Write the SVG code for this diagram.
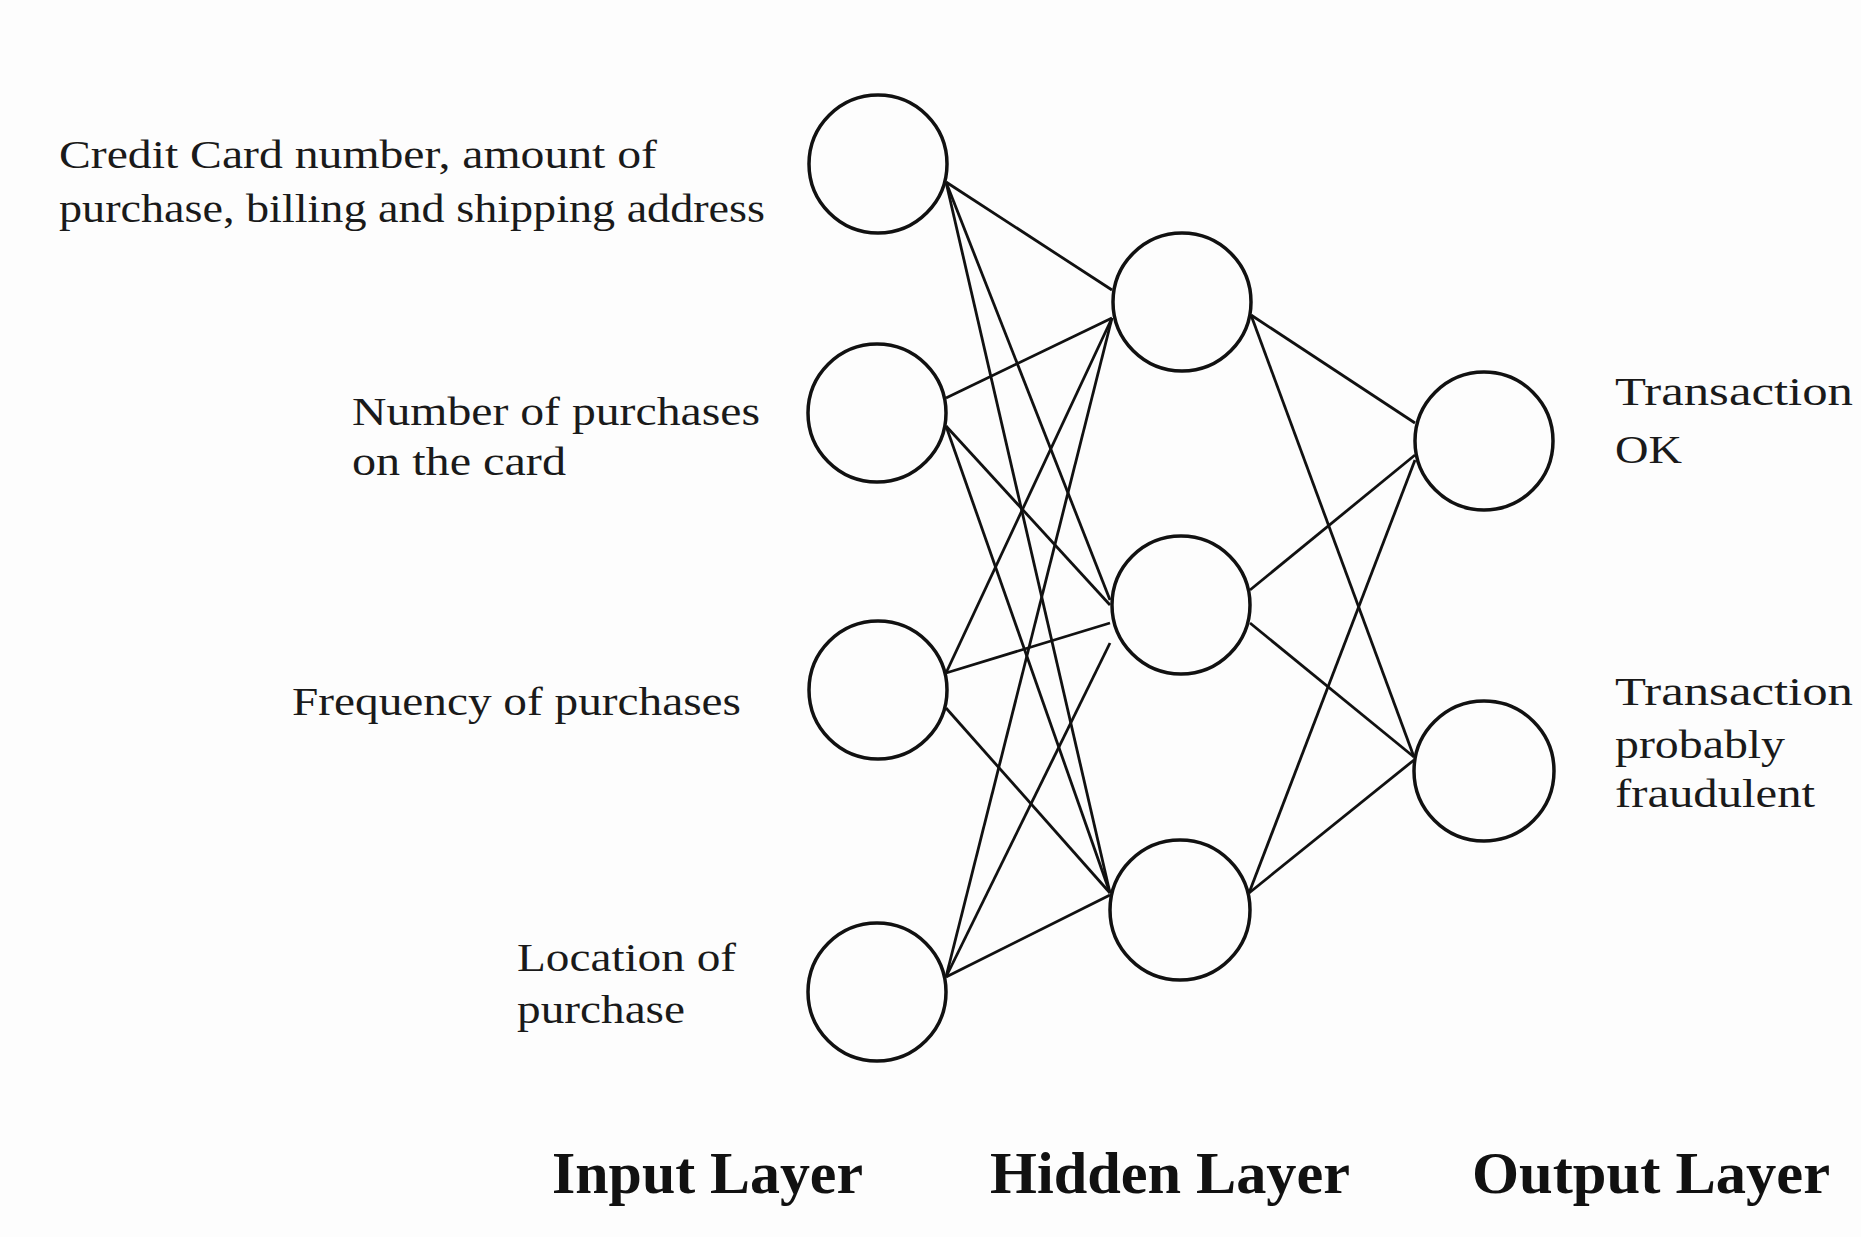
<svg xmlns="http://www.w3.org/2000/svg" width="1861" height="1237" viewBox="0 0 1861 1237">
<style>
.node{fill:none;stroke:#111;stroke-width:3.5}
.edge{stroke:#111;stroke-width:2.8;fill:none}
.lbl{font-family:"Liberation Serif","Times New Roman",serif;font-size:40px;fill:#1a1a1a}
.out{font-family:"Liberation Serif","Times New Roman",serif;font-size:40px;fill:#1a1a1a}
.layer{font-family:"Liberation Serif","Times New Roman",serif;font-size:60px;font-weight:bold;fill:#111}
</style>
<rect width="1861" height="1237" fill="#fdfdfd"/>
<g id="connectors">
<line class="edge" x1="946" y1="182" x2="1112" y2="290"/>
<line class="edge" x1="946" y1="182" x2="1110" y2="600"/>
<line class="edge" x1="946" y1="182" x2="1110" y2="893"/>
<line class="edge" x1="946" y1="398" x2="1112" y2="318"/>
<line class="edge" x1="946" y1="426" x2="1110" y2="605"/>
<line class="edge" x1="946" y1="426" x2="1110" y2="893"/>
<line class="edge" x1="946" y1="673" x2="1112" y2="318"/>
<line class="edge" x1="946" y1="673" x2="1110" y2="623"/>
<line class="edge" x1="946" y1="708" x2="1110" y2="893"/>
<line class="edge" x1="946" y1="977" x2="1112" y2="318"/>
<line class="edge" x1="946" y1="977" x2="1110" y2="643"/>
<line class="edge" x1="946" y1="977" x2="1110" y2="895"/>
<line class="edge" x1="1251" y1="315" x2="1415" y2="423"/>
<line class="edge" x1="1251" y1="315" x2="1414" y2="757"/>
<line class="edge" x1="1250" y1="590" x2="1415" y2="455"/>
<line class="edge" x1="1250" y1="623" x2="1414" y2="757"/>
<line class="edge" x1="1249" y1="893" x2="1415" y2="460"/>
<line class="edge" x1="1249" y1="893" x2="1414" y2="760"/>
</g>
<g id="input1"><circle class="node" cx="878" cy="164" r="69"/>
<text class="lbl" x="59" y="168" textLength="598" lengthAdjust="spacingAndGlyphs">Credit Card number, amount of</text>
<text class="lbl" x="59" y="222" textLength="706" lengthAdjust="spacingAndGlyphs">purchase, billing and shipping address</text></g>
<g id="input2"><circle class="node" cx="877" cy="413" r="69"/>
<text class="lbl" x="352" y="425" textLength="408" lengthAdjust="spacingAndGlyphs">Number of purchases</text>
<text class="lbl" x="352" y="475" textLength="214" lengthAdjust="spacingAndGlyphs">on the card</text></g>
<g id="input3"><circle class="node" cx="878" cy="690" r="69"/>
<text class="lbl" x="292" y="715" textLength="449" lengthAdjust="spacingAndGlyphs">Frequency of purchases</text></g>
<g id="input4"><circle class="node" cx="877" cy="992" r="69"/>
<text class="lbl" x="517" y="971" textLength="219" lengthAdjust="spacingAndGlyphs">Location of</text>
<text class="lbl" x="517" y="1023" textLength="168" lengthAdjust="spacingAndGlyphs">purchase</text></g>
<g id="hidden1"><circle class="node" cx="1182" cy="302" r="69"/></g>
<g id="hidden2"><circle class="node" cx="1181" cy="605" r="69"/></g>
<g id="hidden3"><circle class="node" cx="1180" cy="910" r="70"/></g>
<g id="output1"><circle class="node" cx="1484" cy="441" r="69"/>
<text class="out" x="1615" y="405" textLength="238" lengthAdjust="spacingAndGlyphs">Transaction</text>
<text class="out" x="1615" y="463" textLength="67" lengthAdjust="spacingAndGlyphs">OK</text></g>
<g id="output2"><circle class="node" cx="1484" cy="771" r="70"/>
<text class="out" x="1615" y="705" textLength="238" lengthAdjust="spacingAndGlyphs">Transaction</text>
<text class="out" x="1615" y="758" textLength="170" lengthAdjust="spacingAndGlyphs">probably</text>
<text class="out" x="1615" y="807" textLength="200" lengthAdjust="spacingAndGlyphs">fraudulent</text></g>
<g id="layers">
<text class="layer" x="552" y="1193" textLength="311" lengthAdjust="spacingAndGlyphs">Input Layer</text>
<text class="layer" x="990" y="1193" textLength="360" lengthAdjust="spacingAndGlyphs">Hidden Layer</text>
<text class="layer" x="1472" y="1193" textLength="358" lengthAdjust="spacingAndGlyphs">Output Layer</text>
</g>
</svg>
